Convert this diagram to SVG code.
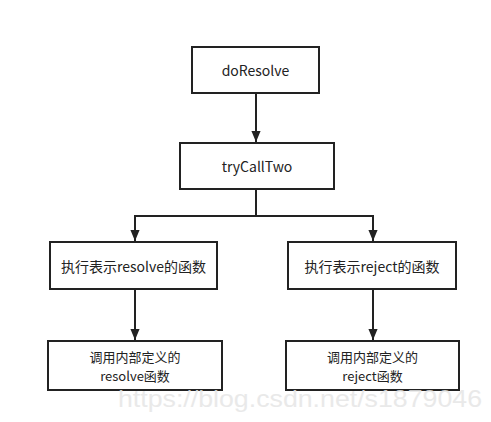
<svg xmlns="http://www.w3.org/2000/svg" width="491" height="422" viewBox="0 0 491 422">
<defs>
<style>
.box{fill:#fff;stroke:#222;stroke-width:2}
.lbl{font-family:"Noto Sans CJK SC","Liberation Sans",sans-serif;font-size:14px;fill:#222;text-anchor:middle;dominant-baseline:central}
.sm{font-size:13px}
.edge{fill:none;stroke:#222;stroke-width:2}
.wm{font-family:"Liberation Sans",sans-serif;font-size:24px;fill:#e6e6e6;opacity:0.85}
</style>
<marker id="ah" markerWidth="11" markerHeight="13" refX="12" refY="5" orient="auto" markerUnits="userSpaceOnUse" viewBox="0 0 12 10">
<path d="M0,0 L12,5 L0,10 Z" fill="#222"/>
</marker>
</defs>
<rect width="491" height="422" fill="#fff"/>
<g id="connectors">
<path class="edge" d="M256,93 V142" marker-end="url(#ah)"/>
<path class="edge" d="M256,189 V216 H135 V241" marker-end="url(#ah)"/>
<path class="edge" d="M256,216 H373 V241" marker-end="url(#ah)"/>
<path class="edge" d="M135,289 V340" marker-end="url(#ah)"/>
<path class="edge" d="M373,289 V340" marker-end="url(#ah)"/>
</g>
<g id="doResolve">
<rect class="box" x="192" y="47" width="127" height="46"/>
<text class="lbl" x="255.5" y="70">doResolve</text>
</g>
<g id="tryCallTwo">
<rect class="box" x="180" y="143" width="154" height="46"/>
<text class="lbl" x="257" y="166">tryCallTwo</text>
</g>
<g id="execResolve">
<rect class="box" x="50" y="242" width="167" height="47"/>
<text class="lbl" x="133.5" y="265.5">执行表示resolve的函数</text>
</g>
<g id="execReject">
<rect class="box" x="288" y="242" width="168" height="47"/>
<text class="lbl" x="372" y="265.5">执行表示reject的函数</text>
</g>
<g id="callResolve">
<rect class="box" x="48" y="341" width="174" height="49"/>
<text class="lbl sm" x="135" y="356.5">调用内部定义的</text>
<text class="lbl sm" x="135" y="375">resolve函数</text>
</g>
<g id="callReject">
<rect class="box" x="286" y="341" width="173" height="49"/>
<text class="lbl sm" x="372.5" y="356.5">调用内部定义的</text>
<text class="lbl sm" x="372.5" y="375">reject函数</text>
</g>
<text class="wm" x="118" y="407" textLength="364" lengthAdjust="spacingAndGlyphs">https://blog.csdn.net/s1879046</text>
</svg>
